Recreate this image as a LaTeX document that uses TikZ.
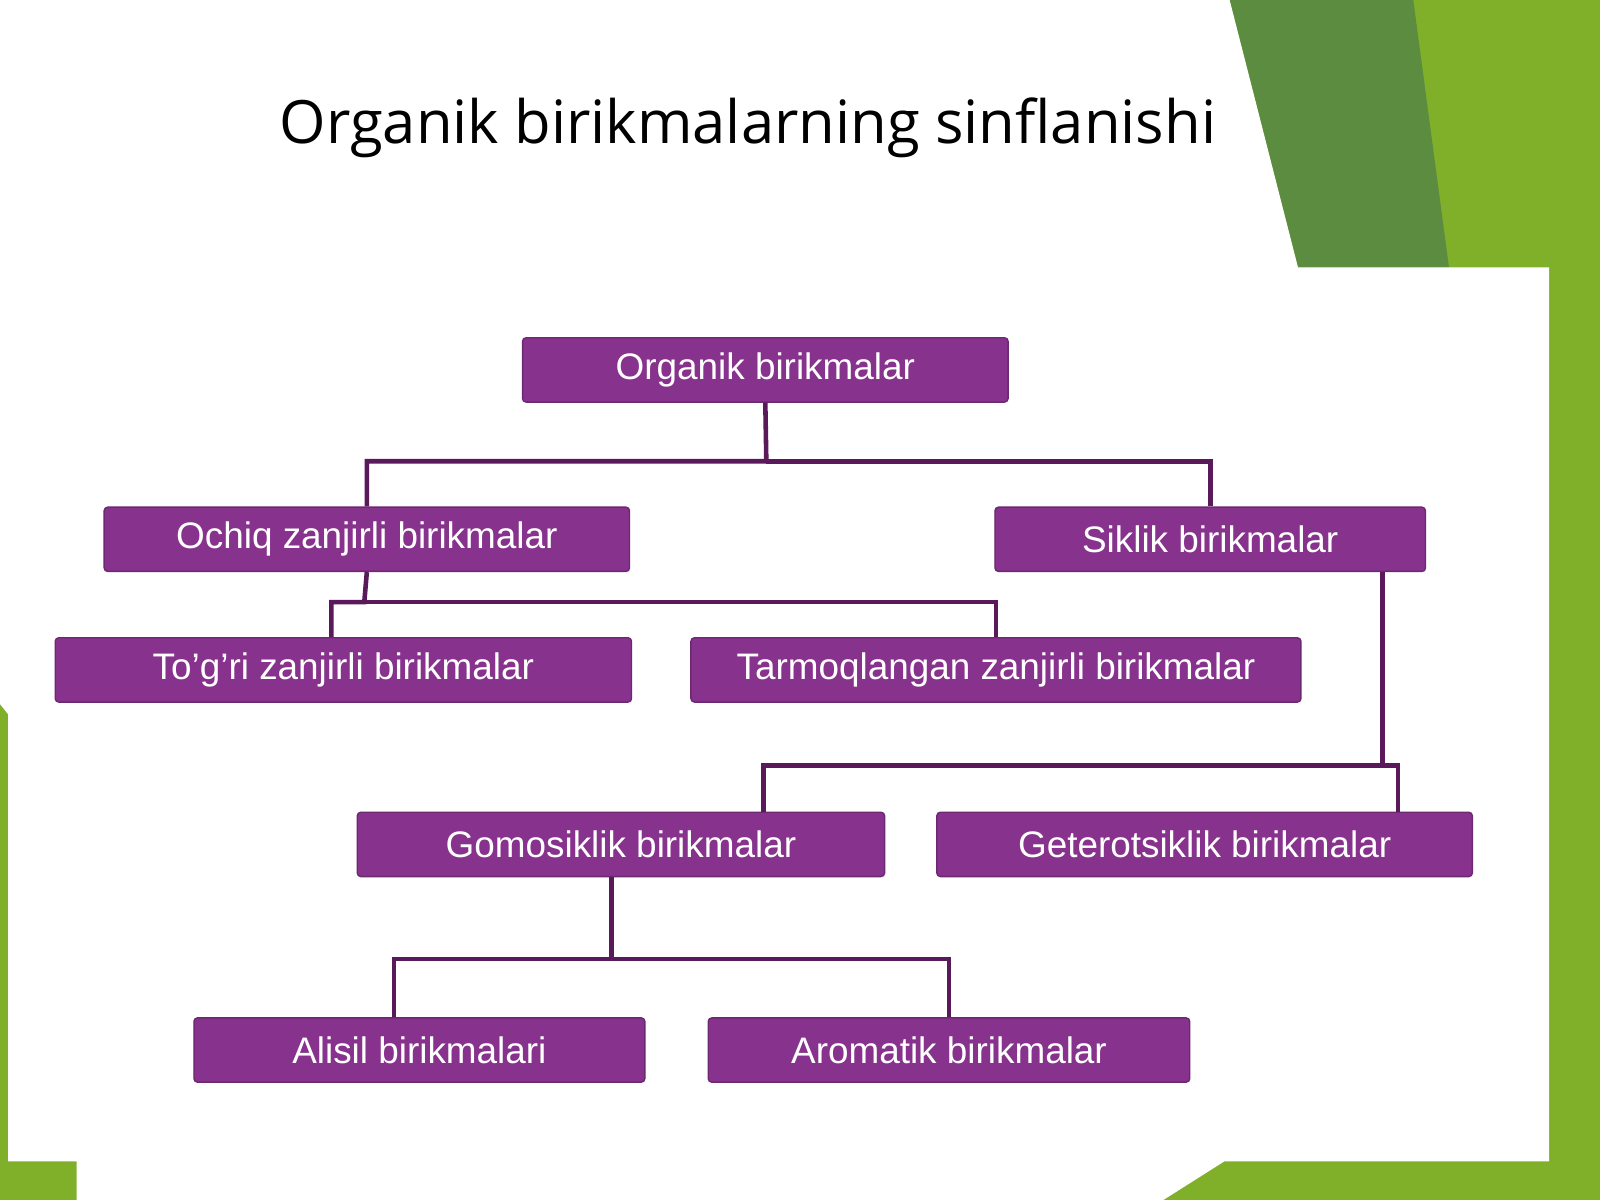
\documentclass[tikz,border=0pt]{standalone}
\usepackage{fontspec}
\setmainfont{Liberation Sans}
\newfontfamily\titlefont{Open Sans}
\begin{document}
\begin{tikzpicture}[x=0.010204cm,y=-0.010204cm,
  box/.style={fill=boxc,draw=boxc!80!black,line width=0.4pt,rounded corners=1pt,minimum height=0.643cm,inner sep=0pt,text=white,font=\fontsize{10.5}{12}\selectfont},
  con/.style={draw=linec,line width=1.3pt}]
\definecolor{boxc}{RGB}{135,50,140}
\definecolor{linec}{RGB}{90,25,90}
\definecolor{dg}{RGB}{92,140,64}
\definecolor{lg}{RGB}{128,176,42}
\useasboundingbox (0,0) rectangle (1568,1176);
\fill[lg] (0,0) rectangle (1568,1176);
\fill[dg] (1205,0) -- (1385,0) -- (1420,262) -- (1272,262) -- cycle;
\fill[white] (0,0) -- (1205,0) -- (1272,262) -- (1518,262) -- (1518,1138) -- (1200,1138) -- (1140,1176) -- (75,1176) -- (75,1138) -- (8,1138) -- (8,700) -- (0,690) -- cycle;
\node[font=\titlefont\fontsize{17}{20}\selectfont,anchor=center] (title) at (733,125) {Organik birikmalarning sinflanishi};
\node[box,minimum width=4.857cm] (root) at (750,362.5) {Organik birikmalar};
\node[box,minimum width=5.255cm] (ochiq) at (359.5,528.5) {Ochiq zanjirli birikmalar};
\node[box,minimum width=4.306cm] (siklik) at (1186,528.5) {Siklik birikmalar};
\node[box,minimum width=5.765cm] (tog) at (336.5,656.5) {To'g'ri zanjirli birikmalar};
\node[box,minimum width=6.102cm] (tarm) at (976,656.5) {Tarmoqlangan zanjirli birikmalar};
\node[box,minimum width=5.275cm] (gomo) at (608.5,827.5) {Gomosiklik birikmalar};
\node[box,minimum width=5.357cm] (get) at (1180.5,827.5) {Geterotsiklik birikmalar};
\node[box,minimum width=4.510cm] (alisil) at (411,1029) {Alisil birikmalari};
\node[box,minimum width=4.816cm] (arom) at (930,1029) {Aromatik birikmalar};
\coordinate (j1) at (751,452);
\coordinate (j2) at (357,590);
\coordinate (sx) at (1355,750);
\coordinate (gx) at (748,750);
\coordinate (ex) at (1370,750);
\coordinate (j4) at (599,940);
\coordinate (ax) at (386,940);
\draw[con] (root.south) -- (j1) -| (ochiq.north);
\draw[con] (j1) -| (siklik.north);
\draw[con] (ochiq.south) -- (j2) -| ([xshift=-0.12cm]tog.north);
\draw[con] (j2) -| (tarm.north);
\draw[con] (siklik.south -| sx) -- (sx) -- (ex) -- (ex |- get.north);
\draw[con] (sx) -- (gx) -- (gx |- gomo.north);
\draw[con] (gomo.south -| j4) -- (j4) -- (ax) -- (ax |- alisil.north);
\draw[con] (j4) -| (arom.north);
\end{tikzpicture}
\end{document}
